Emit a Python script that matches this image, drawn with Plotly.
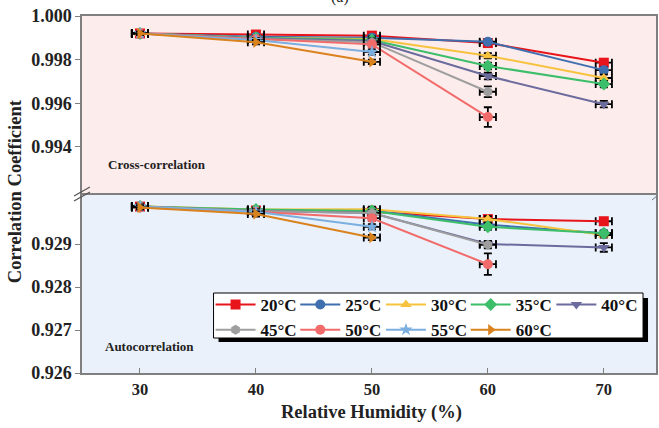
import plotly.graph_objects as go

# ---------------- data ----------------
temps = ["20°C", "25°C", "30°C", "35°C", "40°C", "45°C", "50°C", "55°C", "60°C"]
colors = ["#E8141B", "#3F6FAF", "#F7C33F", "#3DBE6A", "#6B6B9E",
          "#9E9E9E", "#F26B6B", "#7BAFDF", "#D9821E"]
symbols = ["square", "circle", "triangle-up", "diamond", "triangle-down",
           "hexagon", "circle", "star", "triangle-right"]

rh_full = [30, 40, 50, 60, 70]
rh_60 = [30, 40, 50, 60]
rh_50 = [30, 40, 50]
rh = [rh_full, rh_full, rh_full, rh_full, rh_full, rh_60, rh_60, rh_50, rh_50]

cross = [
    [0.99920, 0.99915, 0.99910, 0.99876, 0.99786],
    [0.99920, 0.99905, 0.99900, 0.99882, 0.99752],
    [0.99920, 0.99900, 0.99895, 0.99818, 0.99716],
    [0.99920, 0.99900, 0.99890, 0.99771, 0.99688],
    [0.99920, 0.99898, 0.99885, 0.99725, 0.99596],
    [0.99920, 0.99895, 0.99880, 0.99653],
    [0.99920, 0.99895, 0.99870, 0.99537],
    [0.99920, 0.99890, 0.99835],
    [0.99920, 0.99880, 0.99790],
]
cross_err = [
    [0.00008, 0.00010, 0.00012, 0.00012, 0.00015],
    [0.00008, 0.00010, 0.00012, 0.00012, 0.00015],
    [0.00008, 0.00010, 0.00012, 0.00012, 0.00015],
    [0.00008, 0.00010, 0.00012, 0.00015, 0.00015],
    [0.00008, 0.00010, 0.00012, 0.00015, 0.00015],
    [0.00008, 0.00010, 0.00012, 0.00025],
    [0.00008, 0.00010, 0.00012, 0.00045],
    [0.00008, 0.00010, 0.00012],
    [0.00008, 0.00010, 0.00010],
]

auto = [
    [0.92987, 0.92978, 0.92975, 0.92958, 0.92953],
    [0.92987, 0.92978, 0.92978, 0.92945, 0.92925],
    [0.92988, 0.92980, 0.92981, 0.92958, 0.92921],
    [0.92987, 0.92980, 0.92977, 0.92940, 0.92925],
    [0.92987, 0.92977, 0.92972, 0.92900, 0.92892],
    [0.92987, 0.92977, 0.92972, 0.92898],
    [0.92985, 0.92975, 0.92960, 0.92853],
    [0.92987, 0.92975, 0.92940],
    [0.92985, 0.92970, 0.92915],
]
auto_err = [
    [0.00005, 0.00006, 0.00006, 0.00007, 0.00006],
    [0.00005, 0.00006, 0.00006, 0.00007, 0.00006],
    [0.00005, 0.00006, 0.00006, 0.00007, 0.00006],
    [0.00005, 0.00006, 0.00006, 0.00007, 0.00006],
    [0.00005, 0.00006, 0.00006, 0.00007, 0.00010],
    [0.00005, 0.00006, 0.00006, 0.00008],
    [0.00005, 0.00006, 0.00006, 0.00025],
    [0.00005, 0.00006, 0.00006],
    [0.00005, 0.00006, 0.00006],
]
rh_err = 0.7

top_ticks = [0.994, 0.996, 0.998, 1.000]
bottom_ticks = [0.926, 0.927, 0.928, 0.929]
x_ticks = [30, 40, 50, 60, 70]

# ---------------- figure ----------------
FONT = "Liberation Serif"
W, H = 659, 428
ml, mr, mt, mb = 82, 1, 16, 55
pw, ph = W - ml - mr, H - mt - mb


def px(xp):
    return (xp - ml) / pw


def py(yp):
    return (H - mb - yp) / ph


legend_names = ["legend", "legend2", "legend3", "legend4", "legend5"]

fig = go.Figure()


def style(i):
    return dict(
        mode="lines+markers",
        line=dict(color=colors[i], width=2),
        marker=dict(symbol=symbols[i], size=10, color=colors[i]),
        error_x=dict(type="constant", value=rh_err, color="black", thickness=1.8, width=4),
    )


for i, t in enumerate(temps):
    fig.add_trace(go.Scatter(
        x=rh[i], y=auto[i], name=t, showlegend=True, legend=legend_names[i % 5],
        error_y=dict(type="data", array=auto_err[i], color="black", thickness=1.8, width=4),
        xaxis="x", yaxis="y", **style(i)))
for i, t in enumerate(temps):
    fig.add_trace(go.Scatter(
        x=rh[i], y=cross[i], name=t, showlegend=False,
        error_y=dict(type="data", array=cross_err[i], color="black", thickness=1.8, width=4),
        xaxis="x2", yaxis="y2", **style(i)))

top_dom = [py(193), 1.0]
bot_dom = [0.0, py(195)]

axis_common = dict(showline=True, linecolor="#7f7f7f", linewidth=1.5, mirror=True,
                   showgrid=False, zeroline=False)
ytickfont = dict(family=FONT, size=18, color="#222", weight="bold")
xtickfont = dict(family=FONT, size=16.5, color="#222", weight="bold")

legend_font = dict(family=FONT, size=17, color="#111", weight="bold")
col_x = [211, 296, 382, 467, 553]
legends = {}
for k, name in enumerate(legend_names):
    legends[name] = dict(orientation="v", x=px(col_x[k]), y=py(287), xanchor="left",
                         yanchor="top", bgcolor="rgba(0,0,0,0)", borderwidth=0,
                         itemwidth=40, tracegroupgap=0, font=legend_font)

fig.update_layout(
    width=W, height=H,
    margin=dict(l=ml, r=mr, t=mt, b=mb),
    paper_bgcolor="white", plot_bgcolor="rgba(0,0,0,0)",
    showlegend=True,
    xaxis=dict(domain=[0, 1], range=[25, 74.5], anchor="y", tickvals=x_ticks,
               ticks="inside", ticklen=5, tickcolor="#7f7f7f", tickfont=xtickfont,
               **axis_common),
    yaxis=dict(domain=bot_dom, range=[0.926, 0.93014], anchor="x", tickvals=bottom_ticks,
               ticktext=[f"{v:.3f}" for v in bottom_ticks], tickfont=ytickfont,
               ticks="outside", ticklen=5, tickcolor="#7f7f7f", **axis_common),
    xaxis2=dict(domain=[0, 1], range=[25, 74.5], anchor="y2", matches="x",
                showticklabels=False, ticks="", **axis_common),
    yaxis2=dict(domain=top_dom, range=[0.99189, 1.000], anchor="x2", tickvals=top_ticks,
                ticktext=[f"{v:.3f}" for v in top_ticks], tickfont=ytickfont,
                ticks="outside", ticklen=5, tickcolor="#7f7f7f", **axis_common),
    **legends,
)

shapes = [
    # panel backgrounds
    dict(type="rect", xref="x domain", yref="y2 domain", x0=0, x1=1, y0=0, y1=1,
         fillcolor="#FDECEC", line=dict(width=0), layer="below"),
    dict(type="rect", xref="x domain", yref="y domain", x0=0, x1=1, y0=0, y1=1,
         fillcolor="#EAF1FA", line=dict(width=0), layer="below"),
    # legend shadow and box
    dict(type="rect", xref="paper", yref="paper", x0=px(219), x1=px(650), y0=py(342), y1=py(298),
         fillcolor="black", line=dict(width=0), layer="above"),
    dict(type="rect", xref="paper", yref="paper", x0=px(214), x1=px(645), y0=py(338), y1=py(293),
         fillcolor="white", line=dict(color="black", width=1), layer="above"),
    # axis break marks
    dict(type="line", xref="paper", yref="paper", x0=px(74), x1=px(90), y0=py(196), y1=py(187),
         line=dict(color="#555", width=1.3)),
    dict(type="line", xref="paper", yref="paper", x0=px(74), x1=px(90), y0=py(201), y1=py(192),
         line=dict(color="#555", width=1.3)),
    dict(type="line", xref="paper", yref="paper", x0=px(654), x1=px(659), y0=py(200), y1=py(196),
         line=dict(color="#777", width=1)),
]
fig.update_layout(shapes=shapes)

annotations = [
    dict(text="Cross-correlation", xref="paper", yref="paper", x=px(106), y=py(164),
         xanchor="left", yanchor="middle", showarrow=False,
         font=dict(family=FONT, size=13, color="#222", weight="bold")),
    dict(text="Autocorrelation", xref="paper", yref="paper", x=px(103), y=py(346),
         xanchor="left", yanchor="middle", showarrow=False,
         font=dict(family=FONT, size=13, color="#222", weight="bold")),
    dict(text="Correlation Coefficient", xref="paper", yref="paper", x=px(15), y=py(191),
         xanchor="center", yanchor="middle", textangle=-90, showarrow=False,
         font=dict(family=FONT, size=18.5, color="#222", weight="bold")),
    dict(text="Relative Humidity (%)", xref="paper", yref="paper", x=px(373), y=py(412),
         xanchor="center", yanchor="middle", showarrow=False,
         font=dict(family=FONT, size=18.5, color="#222", weight="bold")),
    dict(text="(a)", xref="paper", yref="paper", x=px(341), y=py(-3),
         xanchor="center", yanchor="middle", showarrow=False,
         font=dict(family=FONT, size=16, color="#222")),
]
fig.update_layout(annotations=annotations)

fig.write_html("out.html")
